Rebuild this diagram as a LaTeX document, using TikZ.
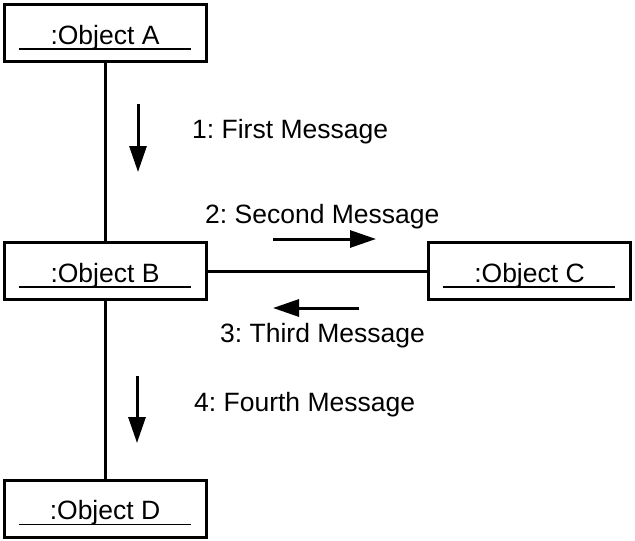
\documentclass[tikz,border=0pt]{standalone}
\usepackage{fontspec}
\setmainfont{Liberation Sans}
\usetikzlibrary{arrows.meta}
\frenchspacing
\begin{document}
\begin{tikzpicture}[x=1pt,y=-1pt,
  obj/.style={draw, line width=3pt, minimum width=202pt, minimum height=57pt, inner sep=0pt, font=\fontsize{26.5}{30}\selectfont, text depth=0pt},
  conn/.style={line width=3pt},
  msg/.style={line width=3pt, -{Triangle[length=26pt,width=17pt]}},
  lbl/.style={anchor=base west, inner sep=0pt, font=\fontsize{26.5}{30}\selectfont},
  uline/.style={line width=1.6pt}]
\useasboundingbox (0,0) rectangle (635,541);
\node[obj] (A) at (105,33) {\raisebox{-3pt}{:Object A}};
\node[obj] (B) at (105,271) {\raisebox{-3pt}{:Object B}};
\node[obj] (C) at (529.5,271) {\raisebox{-3pt}{:Object C}};
\node[obj] (D) at (105,508.5) {\raisebox{-3pt}{:Object D}};
\foreach \n in {A,B,C,D}{
  \draw[uline] ([xshift=16pt,yshift=14pt]\n.south west) -- ([xshift=-17pt,yshift=14pt]\n.south east);
}
\draw[conn] (A) -- (B);
\draw[conn] (B) -- (D);
\draw[conn] (B) -- (C);
\coordinate (m1s) at (138,104); \coordinate (m1e) at (138,172);
\coordinate (m2s) at (273,239); \coordinate (m2e) at (376,239);
\coordinate (m3s) at (359,308); \coordinate (m3e) at (273,308);
\coordinate (m4s) at (137,376); \coordinate (m4e) at (137,443);
\draw[msg] (m1s) -- (m1e);
\draw[msg] (m2s) -- (m2e);
\draw[msg] (m3s) -- (m3e);
\draw[msg] (m4s) -- (m4e);
\node[lbl] (l1) at (192,138) {1: First Message};
\node[lbl] (l2) at (205,223) {2: Second Message};
\node[lbl] (l3) at (220,342) {3: Third Message};
\node[lbl] (l4) at (194,411) {4: Fourth Message};
\end{tikzpicture}
\end{document}
